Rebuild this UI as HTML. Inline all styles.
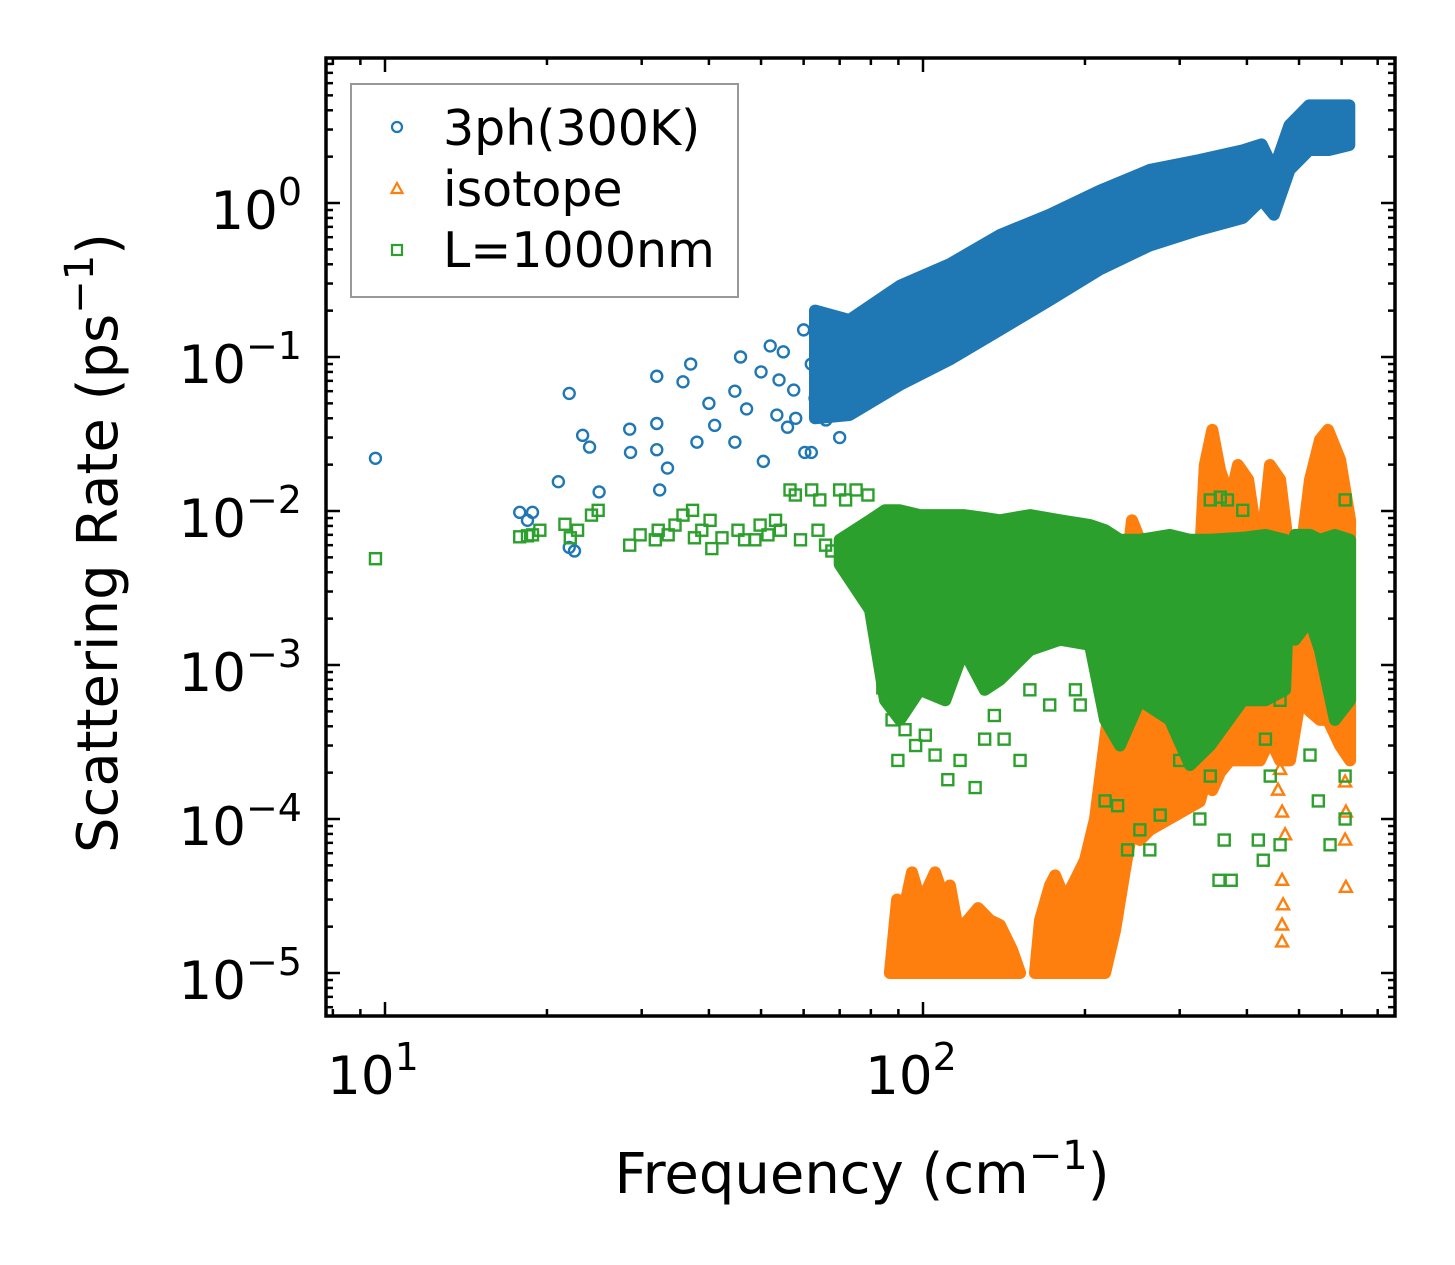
<!DOCTYPE html>
<html><head><meta charset="utf-8"><style>
html,body{margin:0;padding:0;background:#fff;}
svg{display:block;font-family:"DejaVu Sans","Liberation Sans",sans-serif;}
</style></head><body>
<svg id="chart" width="1455" height="1265" viewBox="0 0 1455 1265">
<g id="marks"></g>
<g id="axes"></g>
</svg>
<script>
// ---- data ----
const blueEnvFreq = [63,73,90.6,112,139,172,213,264,326,393,426,449,480,522,568,620];
const blueEnvHi   = [0.2,0.174,0.29,0.4,0.62,0.84,1.2,1.64,1.9,2.2,2.4,1.64,3.2,4.3,4.3,4.3];
const blueEnvLo   = [0.04,0.042,0.066,0.096,0.15,0.234,0.37,0.53,0.67,0.8,1.05,0.84,1.64,2.21,2.21,2.38];
const bluePtFreq = [9.6,22,21,23.3,24,25,28.5,28.6,32,32,32,32.4,33.5,35.8,37,38,40,41,44.7,44.7,45.8,47,50.5,50,52,53.5,54,55,57.5,60,63,66,67,72,62,17.8,18.4,18.8,22,22.5,60.3,62,65,68,70,58,56];
const bluePtRate = [0.022,0.058,0.0155,0.031,0.026,0.0133,0.034,0.024,0.075,0.037,0.025,0.0137,0.019,0.069,0.09,0.028,0.05,0.036,0.06,0.028,0.1,0.046,0.021,0.08,0.118,0.042,0.071,0.108,0.061,0.15,0.054,0.039,0.088,0.125,0.024,0.0098,0.0087,0.0098,0.0058,0.0055,0.024,0.09,0.13,0.16,0.03,0.04,0.035];

const orange1Freq = [86.8,89.5,92.6,95.4,98.7,101.7,105.3,108.9,112.2,116.2,121.2,126.6,133.2,139,146.4,151.5];
const orange1Hi   = [0.00001,0.00003,0.0000277,0.000045,0.00003,0.0000346,0.000045,0.000032,0.000037,0.000019,0.000022,0.0000264,0.000022,0.0000205,0.0000141,0.00001];
const orange2Freq = [161.5,165,172.2,176,183.6,191.7,200,208.8,218,227.5,237.4,244.6,253,264,327,334,345,356.5,372,385,402,423,441.6,461,481,502,524,547,566,596,622];
const orange2Hi   = [0.00001,0.000022,0.000037,0.000043,0.00003,0.00004,0.000054,0.0001,0.00033,0.00108,0.00356,0.0087,0.0065,0.0048,0.0048,0.0199,0.0336,0.0185,0.0118,0.0199,0.016,0.0048,0.0199,0.016,0.0048,0.0048,0.016,0.029,0.0336,0.0215,0.0087];
const orange2Lo   = [0.00001,0.00001,0.00001,0.00001,0.00001,0.00001,0.00001,0.00001,0.00001,0.000019,0.000047,0.000085,0.000073,0.000085,0.00013,0.00017,0.000154,0.0002,0.00024,0.00024,0.00024,0.00024,0.00033,0.00024,0.00024,0.00059,0.0005,0.00044,0.00044,0.0003,0.00024];
const orangePtFreq = [461,457,465,471,465,467,465,465,609,609,609,611,609,611,270,275.7,272];
const orangePtRate = [0.00021,0.000154,0.000111,0.000079,0.00004,0.0000277,0.0000205,0.0000159,0.00059,0.00042,0.000174,0.000111,0.000073,0.000036,0.00021,0.00019,0.000154];

const greenEnvFreq = [70,79.7,85,90.6,98.7,110,119,130.2,139,158,179.8,204.4,218,232.4,253,287.7,313.5,341.7,393,433,471,481,491.5,524,547,583,622];
const greenEnvHi   = [0.0065,0.0087,0.0101,0.0101,0.0094,0.0094,0.0094,0.009,0.0087,0.0094,0.0087,0.0081,0.0075,0.0065,0.0065,0.007,0.0065,0.0065,0.0067,0.007,0.0065,0.0055,0.007,0.007,0.0065,0.007,0.0065];
const greenEnvLo   = [0.0045,0.00228,0.00059,0.00044,0.00069,0.00059,0.00125,0.00069,0.0008,0.00125,0.00146,0.00135,0.00044,0.0003,0.00059,0.00044,0.000224,0.0003,0.00059,0.00059,0.00069,0.0048,0.00146,0.00196,0.00125,0.00044,0.00059];
const greenPtFreq = [9.6,17.8,18.4,18.8,19.4,21.6,22.1,22.8,24.2,24.9,28.5,29.8,31.8,32.2,33.6,34.6,35.8,37.3,37.6,38.8,40.2,40.5,42.3,45.3,46.6,48.7,49.8,51.5,53.2,54.3,56.6,57.9,59.2,62.1,63.8,64.3,65.9,67.7,70,71.8,73.3,75.1,76.3,79,79.7,80.3,81.7,82.4,84.2,85,87.6,89.8,92.6,96.9,101,111.2,105.3,117.2,125,130.2,135.7,141.5,151.5,158,172,192,196,218,230,240,253,264,276,300,327,342,355,363,374,368,393,342,357,420,429,442,461,524,543,571,609,609,609,433,461];
const greenPtRate = [0.0049,0.0068,0.0069,0.007,0.0075,0.0082,0.0067,0.0075,0.0094,0.0101,0.006,0.007,0.0065,0.0075,0.007,0.0081,0.0094,0.0101,0.0067,0.0075,0.0087,0.0057,0.0067,0.0075,0.0065,0.0065,0.0081,0.007,0.0087,0.0075,0.0137,0.0127,0.0065,0.0137,0.0075,0.0118,0.006,0.0055,0.0137,0.0118,0.0065,0.0137,0.007,0.0127,0.0048,0.0026,0.0018,0.00146,0.00071,0.00086,0.00044,0.00024,0.00038,0.0003,0.00035,0.00018,0.00026,0.00024,0.00016,0.00033,0.00047,0.00033,0.00024,0.00069,0.00055,0.00069,0.00055,0.000131,0.000122,0.000063,0.000085,0.000063,0.000106,0.00024,0.0001,0.00019,0.00004,0.000073,0.00004,0.0118,0.0101,0.0118,0.0123,0.000073,0.000054,0.00019,0.000068,0.00026,0.000131,0.000068,0.0118,0.00019,0.0001,0.00033,0.00059];

const xTickVals = [10,100];
const xTickLabels = ["1","2"];
const yTickVals = [1,0.1,0.01,0.001,0.0001,0.00001];
const yTickLabels = ["0","\u22121","\u22122","\u22123","\u22124","\u22125"];

// ---- axes ----
const L=326,R=1395,T=58,B=1016;
function xs(f){return 385+538*Math.log10(f/10);}
function ys(v){return 203-154*Math.log10(v);}
const NS="http://www.w3.org/2000/svg";
const marks=document.getElementById('marks');
const axes=document.getElementById('axes');
function mk(tag,attrs,parent){const e=document.createElementNS(NS,tag);for(const k in attrs)e.setAttribute(k,attrs[k]);parent.appendChild(e);return e;}

function band(fr,hi,lo,color,name){
  let d='';
  for(let i=0;i<fr.length;i++)d+=(i?'L':'M')+xs(fr[i]).toFixed(1)+','+ys(hi[i]).toFixed(1);
  for(let i=fr.length-1;i>=0;i--)d+='L'+xs(fr[i]).toFixed(1)+','+ys(lo[i]).toFixed(1);
  d+='Z';
  const p=mk('path',{d:d,fill:color,stroke:color,'stroke-width':12,'stroke-linejoin':'round'},marks);
  
  
}
function circles(fr,rt,color){
  for(let i=0;i<fr.length;i++){
    const c=mk('circle',{cx:xs(fr[i]),cy:ys(rt[i]),r:5.5,fill:'none',stroke:color,'stroke-width':2.4},marks);
    
    
  }
}
function tris(fr,rt,color){
  for(let i=0;i<fr.length;i++){
    const x=xs(fr[i]),y=ys(rt[i]);
    const t=mk('polygon',{points:`${x},${y-6.5} ${x-6},${y+4.5} ${x+6},${y+4.5}`,fill:'none',stroke:color,'stroke-width':2.4},marks);
    
    
  }
}
function squares(fr,rt,color){
  for(let i=0;i<fr.length;i++){
    const x=xs(fr[i]),y=ys(rt[i]);
    const s=mk('rect',{x:x-5.5,y:y-5.5,width:11,height:11,fill:'none',stroke:color,'stroke-width':2.4},marks);
    
    
  }
}
const BLUE='#1f77b4',ORANGE='#ff7f0e',GREEN='#2ca02c';
band(blueEnvFreq,blueEnvHi,blueEnvLo,BLUE,'3ph-dense-band');
circles(bluePtFreq,bluePtRate,BLUE);
band(orange1Freq,orange1Hi,orange1Freq.map(()=>0.00001),ORANGE,'isotope-band-low');
band(orange2Freq,orange2Hi,orange2Lo,ORANGE,'isotope-band-high');
tris(orangePtFreq,orangePtRate,ORANGE);
band(greenEnvFreq,greenEnvHi,greenEnvLo,GREEN,'boundary-dense-band');
squares(greenPtFreq,greenPtRate,GREEN);

const fr=mk('rect',{x:L,y:T,width:R-L,height:B-T,fill:'none',stroke:'#000','stroke-width':3.5},axes);



for(let d=0;d<=2;d++){
  for(let m=1;m<=9;m++){
    const f=Math.pow(10,d)*m; const x=xs(f);
    if(x<L+2||x>R-2)continue;
    const len=m===1?14:7;
    mk('line',{x1:x,y1:B,x2:x,y2:B-len,stroke:'#000','stroke-width':2.5},axes);
    mk('line',{x1:x,y1:T,x2:x,y2:T+len,stroke:'#000','stroke-width':2.5},axes);
  }
}
for(let d=-6;d<=0;d++){
  for(let m=1;m<=9;m++){
    const v=Math.pow(10,d)*m; const y=ys(v);
    if(y<T+2||y>B-2)continue;
    const len=m===1?14:7;
    mk('line',{x1:L,y1:y,x2:L+len,y2:y,stroke:'#000','stroke-width':2.5},axes);
    mk('line',{x1:R,y1:y,x2:R-len,y2:y,stroke:'#000','stroke-width':2.5},axes);
  }
}
xTickVals.forEach((v,i)=>{
  const t=mk('text',{x:xs(v)-12,y:1094,'font-size':53,'text-anchor':'middle'},axes);
  t.textContent='10';
  const s=mk('tspan',{'font-size':38,dy:-24},t); s.textContent=xTickLabels[i];
  
  
});
yTickVals.forEach((v,i)=>{
  const t=mk('text',{x:302,y:ys(v)+26,'font-size':53,'text-anchor':'end'},axes);
  t.textContent='10';
  const s=mk('tspan',{'font-size':38,dy:-24},t); s.textContent=yTickLabels[i];
  
  
});
</script>
<script>
(function(){
const svg=document.getElementById('chart');
const NS="http://www.w3.org/2000/svg";
const g=document.createElementNS(NS,'g');
g.innerHTML=`
<text x="862" y="1193" font-size="56" text-anchor="middle">Frequency (cm<tspan font-size="40" dy="-24">−1</tspan><tspan dy="24">)</tspan></text>
<text transform="translate(117,543) rotate(-90)" font-size="56" text-anchor="middle">Scattering Rate (ps<tspan font-size="40" dy="-24">−1</tspan><tspan dy="24">)</tspan></text>
<g>
<rect x="351" y="84" width="387" height="213" fill="#fff" stroke="#999" stroke-width="2"/>
<g>
<circle cx="397" cy="127" r="5" fill="none" stroke="#1f77b4" stroke-width="2.2"/>
<text x="443" y="145" font-size="49">3ph(300K)</text></g>
<g>
<polygon points="397,183 391.5,193 402.5,193" fill="none" stroke="#ff7f0e" stroke-width="2.2"/>
<text x="443" y="206" font-size="49">isotope</text></g>
<g>
<rect x="392" y="245" width="10" height="10" fill="none" stroke="#2ca02c" stroke-width="2.2"/>
<text x="443" y="267" font-size="49">L=1000nm</text></g>
</g>`;
svg.appendChild(g);
})();
</script>
</body></html>
